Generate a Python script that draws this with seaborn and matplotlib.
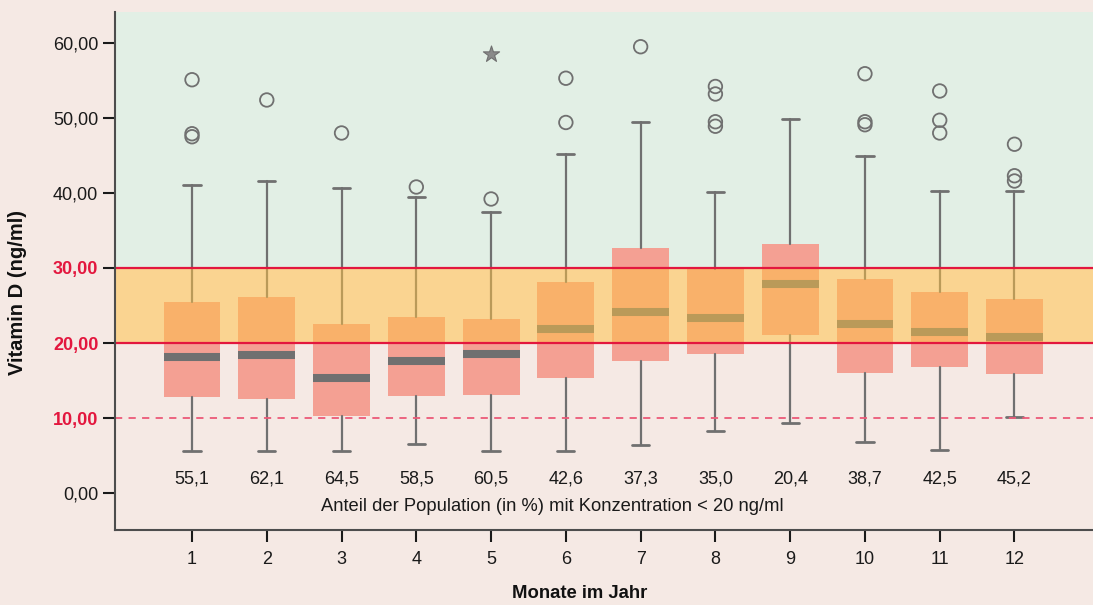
import numpy as np
import pandas as pd
import seaborn as sns
import matplotlib.pyplot as plt

# month-wise box statistics (ng/ml)
months = [1, 2, 3, 4, 5, 6, 7, 8, 9, 10, 11, 12]
whis_lo = [5.65, 5.6, 5.6, 6.6, 5.65, 5.65, 6.45, 8.25, 9.4, 6.8, 5.7, 10.2]
q1 = [12.85, 12.6, 10.3, 13.0, 13.1, 15.4, 17.6, 18.6, 21.1, 16.0, 16.8, 15.9]
median = [18.1, 18.4, 15.3, 17.6, 18.5, 21.9, 24.1, 23.4, 27.9, 22.5, 21.5, 20.8]
q3 = [25.5, 26.1, 22.5, 23.5, 23.2, 28.1, 32.7, 29.9, 33.2, 28.5, 26.8, 25.9]
whis_hi = [41.0, 41.6, 40.7, 39.5, 37.5, 45.2, 49.4, 40.1, 49.9, 44.9, 40.3, 40.3]

outlier_month = [1, 1, 1, 2, 3, 4, 5, 6, 6, 7, 8, 8, 8, 8,
                 10, 10, 10, 11, 11, 11, 12, 12, 12]
outlier_value = [55.1, 47.9, 47.5, 52.4, 48.0, 40.8, 39.2, 55.3, 49.4, 59.5,
                 54.2, 53.2, 49.5, 48.9, 55.9, 49.5, 49.1, 53.6, 49.7, 48.0,
                 46.5, 42.3, 41.6]
extreme_month = [5]
extreme_value = [58.5]

share_below_20 = ["55,1", "62,1", "64,5", "58,5", "60,5", "42,6",
                  "37,3", "35,0", "20,4", "38,7", "42,5", "45,2"]
y_ticks = [0, 10, 20, 30, 40, 50, 60]
y_tick_labels = ["0,00", "10,00", "20,00", "30,00", "40,00", "50,00", "60,00"]

BG = "#f5e9e4"
GREEN = "#e2efe5"
SALMON = "#f4a093"
GRAY = "#707070"
RED = "#e3173e"
RED_LIGHT = "#ec5a78"

sns.set_theme(style="white")
plt.rcParams["font.family"] = ["Liberation Sans", "DejaVu Sans"]

fig = plt.figure(figsize=(10.93, 6.05), dpi=100, facecolor=BG)
ax = fig.add_axes([115 / 1093, 1 - 530 / 605, 1 - 115 / 1093, (530 - 12) / 605])
ax.set_facecolor(BG)
ax.set_xlim(-0.03, 13.05)
ax.set_ylim(-4.93, 64.13)

# green zone above 30
ax.axhspan(30, 70, color=GREEN, zorder=0, lw=0)

stats = []
for i, m in enumerate(months):
    stats.append(dict(whislo=whis_lo[i], q1=q1[i], med=median[i], q3=q3[i],
                      whishi=whis_hi[i], fliers=[], label=str(m)))
ax.bxp(stats, positions=months, widths=0.76, capwidths=0.23,
       showfliers=False, patch_artist=True,
       boxprops=dict(facecolor=SALMON, edgecolor="none", linewidth=0),
       medianprops=dict(color=GRAY, linewidth=5.8, solid_capstyle="butt"),
       whiskerprops=dict(color=GRAY, linewidth=1.6),
       capprops=dict(color=GRAY, linewidth=2.0),
       manage_ticks=False, zorder=2)

df_out = pd.DataFrame({"Monat": outlier_month, "Wert": outlier_value})
sns.scatterplot(data=df_out, x="Monat", y="Wert", ax=ax, marker="o", s=95,
                facecolor="none", edgecolor=GRAY, linewidth=1.3, zorder=2)
df_ext = pd.DataFrame({"Monat": extreme_month, "Wert": extreme_value})
sns.scatterplot(data=df_ext, x="Monat", y="Wert", ax=ax, marker="*", s=150,
                color="#8a8a8a", edgecolor=GRAY, linewidth=0.8, zorder=2)

# translucent orange band 20-30 on top of the boxes
ax.axhspan(20, 30, color=(1.0, 0.76, 0.27), alpha=0.52, zorder=3, lw=0)
ax.axhline(30, color=RED, lw=1.6, zorder=4)
ax.axhline(20, color=RED, lw=1.6, zorder=4)
ax.axhline(10, color=RED_LIGHT, lw=1.3, ls=(0, (4, 3.5)), zorder=4)

for m, txt in zip(months, share_below_20):
    ax.text(m, 1.9, txt, ha="center", va="center", fontsize=13,
            color="#1a1a1a", zorder=5)
ax.text(5.82, -1.85,
        "Anteil der Population (in %) mit Konzentration < 20 ng/ml",
        ha="center", va="center", fontsize=13.2, color="#1a1a1a", zorder=5)

ax.set_xticks(months)
ax.set_xticklabels([str(m) for m in months])
ax.set_yticks(y_ticks)
ax.set_yticklabels(y_tick_labels)
ax.tick_params(axis="both", which="major", direction="out", length=8.5,
               width=1.5, color="#1a1a1a", labelsize=13, labelcolor="#1a1a1a",
               left=True, bottom=True)
ax.tick_params(axis="y", pad=3.5)
ax.tick_params(axis="x", pad=6.5)
for val, lab, tk in zip(y_ticks, ax.get_yticklabels(), ax.yaxis.get_major_ticks()):
    if val in (10, 20, 30):
        lab.set_color(RED)
        lab.set_fontweight("bold")
        tk.tick1line.set_color(RED)

ax.set_xlabel("")
ax.set_ylabel("")
for side in ("top", "right"):
    ax.spines[side].set_visible(False)
for side in ("left", "bottom"):
    ax.spines[side].set_color("#4d4d4d")
    ax.spines[side].set_linewidth(1.5)
    ax.spines[side].set_zorder(6)

fig.text(18 / 1093, 1 - 292 / 605, "Vitamin D (ng/ml)", rotation=90,
         ha="center", va="center", fontsize=14.5, fontweight="bold",
         color="#111111")
fig.text(580 / 1093, 1 - 594 / 605, "Monate im Jahr", ha="center",
         va="center", fontsize=13.3, fontweight="bold", color="#111111")

fig.savefig("out.png", dpi=100, facecolor=BG)
